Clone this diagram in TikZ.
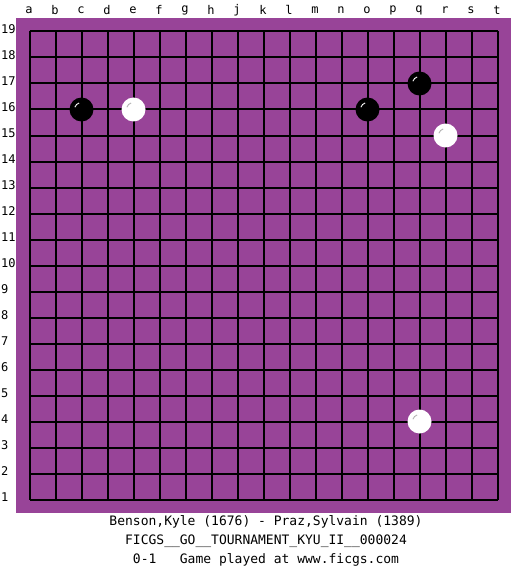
\documentclass[tikz,border=0pt]{standalone}
\usepackage{fontspec}
\newfontfamily\gomono{DejaVu Sans Mono}
\definecolor{boardpurple}{RGB}{152,68,152}
\begin{document}
\begin{tikzpicture}[x=1pt,y=-1pt,
  gridline/.style={black,line width=2pt},
  collabel/.style={font=\gomono\fontsize{12}{14}\selectfont,inner sep=0pt},
  rowlabel/.style={font=\gomono\fontsize{12}{14}\selectfont,inner sep=0pt,anchor=west},
  caption/.style={font=\gomono\fontsize{13}{15}\selectfont,inner sep=0pt},
  blackstone/.style={circle,fill=black,minimum size=24pt,inner sep=0pt},
  whitestone/.style={circle,fill=white,minimum size=24pt,inner sep=0pt},
]
\useasboundingbox (0,0) rectangle (525,575);
\fill[white] (0,0) rectangle (525,575);
\fill[boardpurple] (16,18) rectangle (511,513);
% grid
\foreach \i in {0,...,18} {
  \draw[gridline] (29.5+26*\i,31.5) -- (29.5+26*\i,499.5);
  \draw[gridline] (29.5,31.5+26*\i) -- (497.5,31.5+26*\i);
}
% column labels
\foreach \l [count=\i from 0] in {a,b,c,d,e,f,g,h,j,k,l,m,n,o,p,q,r,s,t} {
  \node[collabel] (col\l) at (29+26*\i,10) {\l};
}
% row labels
\foreach \r in {1,...,19} {
  \node[rowlabel] (row\r) at (1,29.5+26*19-26*\r) {\r};
}
% stones
\foreach \name/\c/\r in {bc16/2/16,bo16/13/16,bq17/15/17} {
  \node[blackstone] (\name) at (29.5+26*\c,31.5+26*19-26*\r) {};
  \draw[white,line width=0.9pt] ([shift={(199:7)}]\name.center) arc[start angle=199,end angle=250,radius=7];
}
\foreach \name/\c/\r in {we16/4/16,wr15/16/15,wq4/15/4} {
  \node[whitestone] (\name) at (29.5+26*\c,31.5+26*19-26*\r) {};
  \draw[gray!60,line width=0.9pt] ([shift={(199:7)}]\name.center) arc[start angle=199,end angle=250,radius=7];
}
% captions
\node[caption] (players) at (266,522) {Benson,Kyle (1676) - Praz,Sylvain (1389)};
\node[caption] (event) at (266,541) {FICGS\_\_GO\_\_TOURNAMENT\_KYU\_II\_\_000024};
\node[caption] (result) at (266,560) {0-1\ \ \ Game played at www.ficgs.com};
\end{tikzpicture}
\end{document}
